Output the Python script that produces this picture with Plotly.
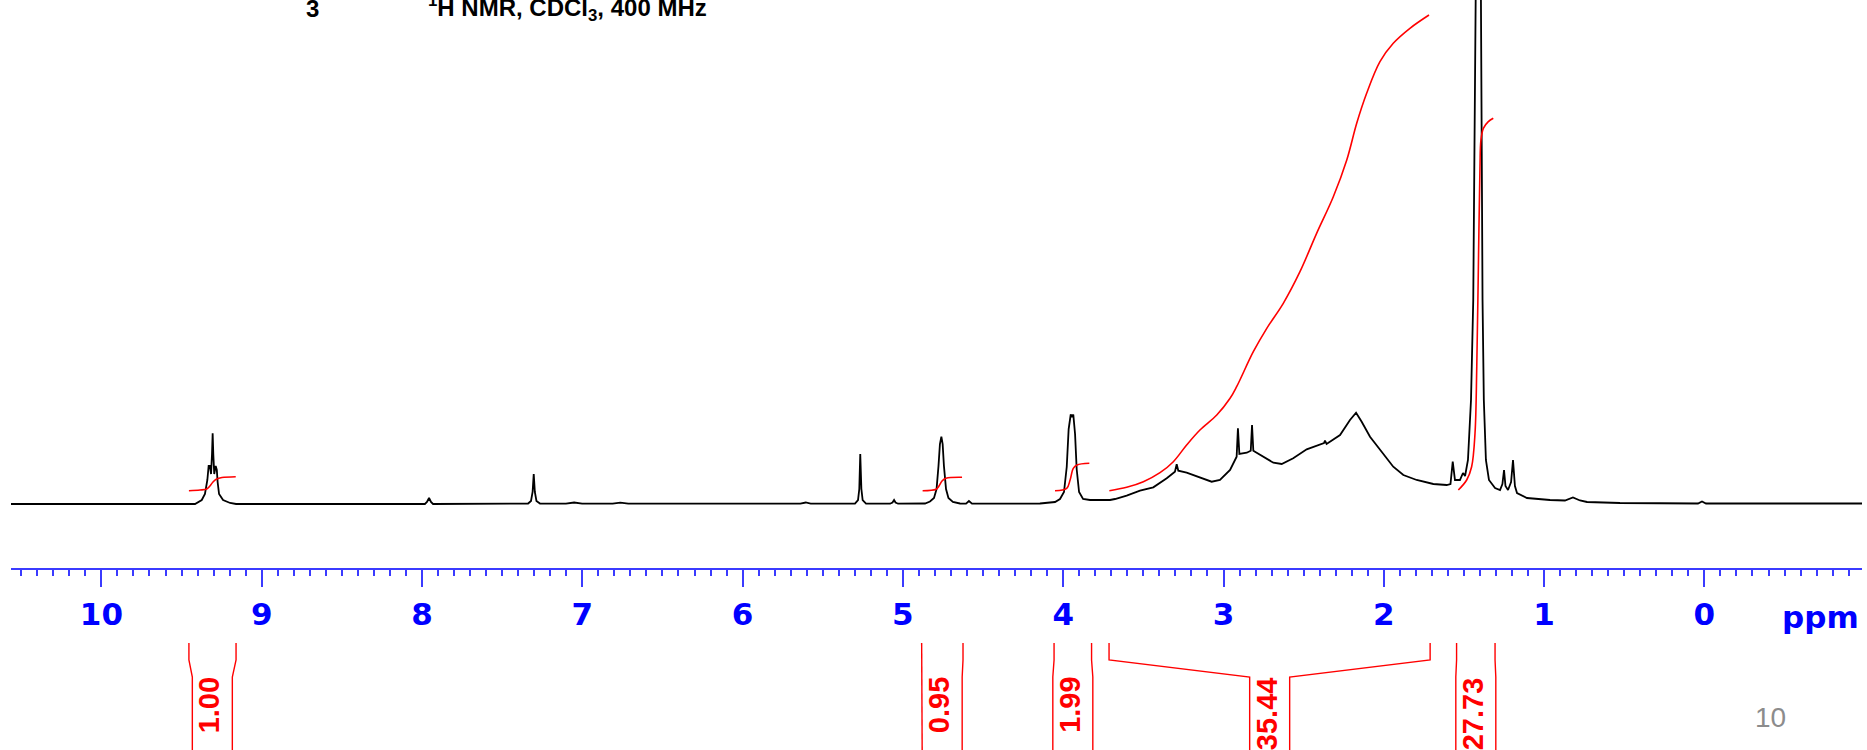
import plotly.graph_objects as go

# ---------------- data ----------------
spec_ppm = [10.566, 9.416, 9.374, 9.354, 9.339, 9.331, 9.323, 9.316, 9.310, 9.306, 9.302, 9.296,
            9.287, 9.280, 9.275, 9.266, 9.241, 9.197, 9.160,
            7.982, 7.969, 7.956, 7.944, 7.931,
            7.338, 7.320, 7.310, 7.303, 7.296, 7.286, 7.264,
            7.102, 7.051, 7.001, 6.811, 6.763, 6.713, 5.640, 5.606, 5.575,
            5.299, 5.280, 5.272, 5.266, 5.259, 5.251, 5.230,
            5.080, 5.065, 5.055, 5.046, 5.030,
            4.862, 4.831, 4.806, 4.790, 4.778, 4.769, 4.760, 4.752, 4.744, 4.731, 4.716, 4.688, 4.644,
            4.606, 4.588, 4.569,
            4.145, 4.051, 4.020, 3.995, 3.978, 3.966, 3.953, 3.945, 3.937, 3.926, 3.916, 3.901, 3.876,
            3.833, 3.770, 3.708, 3.677, 3.604, 3.521, 3.438, 3.354, 3.303, 3.292, 3.282, 3.230, 3.147,
            3.074, 3.022, 2.959, 2.918, 2.910, 2.901, 2.855, 2.830, 2.822, 2.814, 2.752, 2.689, 2.637,
            2.565, 2.481, 2.398, 2.373, 2.367, 2.357, 2.273, 2.211, 2.173, 2.138, 2.086, 2.003, 1.941,
            1.878, 1.795, 1.691, 1.608, 1.584, 1.570, 1.556, 1.525, 1.506, 1.493,
            1.475, 1.456, 1.442, 1.431, 1.412, 1.394, 1.384, 1.376, 1.363,
            1.344, 1.306, 1.275, 1.260, 1.250, 1.241, 1.225, 1.206, 1.194, 1.182, 1.169, 1.107,
            0.963, 0.870, 0.820, 0.776, 0.732, 0.527, 0.040, 0.015, -0.010, -0.989]
spec_int = [0, 0, 4, 10, 24, 38, 38, 30, 50, 70.7, 50, 30,
            38, 34, 22, 10, 4, 1, 0,
            0, 2, 6, 2, 0,
            0.5, 3, 12, 30, 12, 3, 0.5,
            0.3, 1.5, 0.3, 0.3, 1.3, 0.3, 0.3, 1.5, 0.3,
            0.5, 4, 15, 50, 15, 4, 0.5,
            0.3, 1.5, 4, 1.5, 0.3,
            0.5, 2.5, 6, 15, 38, 60, 67.3, 60, 38, 15, 6, 2, 0.5,
            0.3, 3, 0.3,
            0.5, 2, 5, 12, 37, 75, 89.5, 87, 89.5, 70, 35, 12, 5,
            4, 4, 4, 5, 8.3, 13.3, 16.7, 25.7, 32.3, 39.7, 33.3, 31.3, 26.7,
            22.3, 24, 34, 47.3, 75.7, 50, 51.3, 53.3, 79, 53.3, 47.3, 41.3, 40,
            45.7, 54.7, 59, 61, 63.3, 60, 69, 84, 91.3, 82.3, 67.3, 50.7, 37.3,
            29, 24, 20, 19, 20, 42.3, 24, 24, 31, 28,
            44, 104, 204, 504, 800, 504, 204, 104, 44,
            24, 16, 14, 20, 34, 18, 14, 22, 44, 18, 11, 6,
            4, 3.5, 6.5, 3.5, 2, 1, 0.5, 2.5, 0.5, 0.5]

# integral curves (ppm, height)
int1_ppm = [9.454, 9.385, 9.343, 9.323, 9.304, 9.281, 9.248, 9.162]
int1_val = [13.3, 14, 15, 18, 22, 25, 26.5, 27.3]
int2_ppm = [4.877, 4.793, 4.775, 4.756, 4.731, 4.631]
int2_val = [13.3, 14.7, 18, 23, 25.7, 26.7]
int3_ppm = [4.051, 3.978, 3.957, 3.937, 3.914, 3.837]
int3_val = [13.3, 15.7, 24, 35.7, 39, 40.7]
int4_ppm = [3.712, 3.604, 3.500, 3.396, 3.313, 3.230, 3.147, 3.042, 2.959, 2.918, 2.814, 2.730,
            2.627, 2.523, 2.419, 2.315, 2.231, 2.169, 2.107, 2.024, 1.941, 1.837, 1.718]
int4_val = [13.3, 16.7, 22.3, 31.3, 42.3, 59, 74, 89, 105.7, 117.3, 152.3, 175.7,
            200.7, 232.3, 270.7, 307.3, 344, 380.7, 410.7, 442.3, 460.7, 475.7, 489]
int5_ppm = [1.535, 1.483, 1.452, 1.431, 1.420, 1.410, 1.400, 1.394, 1.379, 1.348, 1.317]
int5_val = [14, 24, 37.3, 70.7, 137.3, 237.3, 337.3, 364, 375.7, 382.3, 385.7]

# integration regions and values
integ_labels = ["1.00", "0.95", "1.99", "35.44", "27.73"]
integ_left = [9.454, 4.883, 4.057, 3.714, 1.546]
integ_right = [9.160, 4.625, 3.823, 1.711, 1.306]
integ_center = [9.308, 4.755, 3.940, 2.712, 1.426]

tick_vals = [10, 9, 8, 7, 6, 5, 4, 3, 2, 1, 0]
tick_text = ["10", "9", "8", "7", "6", "5", "4", "3", "2", "1", "0"]

# ---------------- figure ----------------
W, H = 1867, 750
BASE = 504           # baseline pixel row
PX_PER_PPM = 160.3
ZERO_X = 1704.4      # pixel column of 0 ppm
x_left_px, x_right_px = 11, 1862


def ppm_at(px):
    return (ZERO_X - px) / PX_PER_PPM


def yval(py):
    return BASE - py


RED = "#ff0000"
BLUE_LINE = "#3b3bff"
BLUE_TXT = "#0000ff"

fig = go.Figure()

fig.add_trace(go.Scatter(x=spec_ppm, y=spec_int, mode="lines",
                         line=dict(color="black", width=1.8), hoverinfo="skip"))

for xp, yv in [(int1_ppm, int1_val), (int2_ppm, int2_val), (int3_ppm, int3_val),
               (int4_ppm, int4_val), (int5_ppm, int5_val)]:
    fig.add_trace(go.Scatter(x=xp, y=yv, mode="lines", line=dict(color=RED, width=1.6, shape="spline"),
                             hoverinfo="skip"))

hw = 20 / PX_PER_PPM
for lab, L, R, c in zip(integ_labels, integ_left, integ_right, integ_center):
    ys = [yval(643), yval(660), yval(677), yval(752)]
    fig.add_trace(go.Scatter(x=[L, L, c + hw, c + hw, None, R, R, c - hw, c - hw],
                             y=ys + [None] + ys, mode="lines",
                             line=dict(color=RED, width=1.4), hoverinfo="skip"))
    fig.add_annotation(x=c, y=1 - 675 / H, xref="x", yref="paper", text=lab, textangle=-90,
                       showarrow=False, xanchor="center", yanchor="top", xshift=-3,
                       font=dict(family="Liberation Sans", size=29, color=RED, weight="bold"))

fig.add_annotation(x=1820 / W, y=1 - 617 / H, xref="paper", yref="paper", text="ppm",
                   showarrow=False, xanchor="center", yanchor="middle",
                   font=dict(family="DejaVu Sans", size=31, color=BLUE_TXT, weight="bold"))

fig.add_annotation(x=1770 / W, y=1 - 717 / H, xref="paper", yref="paper", text="10",
                   showarrow=False, xanchor="center", yanchor="middle",
                   font=dict(family="Liberation Sans", size=28, color="#8c8c8c"))

fig.add_annotation(x=312 / W, y=1 - 8 / H, xref="paper", yref="paper", text="3",
                   showarrow=False, xanchor="center", yanchor="middle",
                   font=dict(family="Liberation Sans", size=24, color="black", weight="bold"))
fig.add_annotation(x=426 / W, y=1 - 8 / H, xref="paper", yref="paper",
                   text="<sup>1</sup>H NMR, CDCl<sub>3</sub>, 400 MHz",
                   showarrow=False, xanchor="left", yanchor="middle",
                   font=dict(family="Liberation Sans", size=24, color="black", weight="bold"))

fig.update_layout(
    width=W, height=H, margin=dict(l=0, r=0, t=0, b=0),
    paper_bgcolor="white", plot_bgcolor="white", showlegend=False,
    xaxis=dict(range=[ppm_at(x_left_px), ppm_at(x_right_px)], domain=[x_left_px / W, x_right_px / W],
               anchor="free", position=1 - 569.3 / H, showline=True, linecolor=BLUE_LINE, linewidth=2,
               ticks="outside", ticklen=17, tickwidth=2, tickcolor=BLUE_LINE,
               tickvals=tick_vals, ticktext=tick_text,
               tickfont=dict(family="DejaVu Sans", size=31, color=BLUE_TXT, weight="bold"),
               showgrid=False, zeroline=False,
               minor=dict(ticks="outside", ticklen=6, tickwidth=1.5, tickcolor=BLUE_LINE,
                          dtick=0.1, tick0=0, showgrid=False)),
    yaxis=dict(range=[yval(H), yval(0)], domain=[0, 1], visible=False, fixedrange=True),
)

fig.write_html("out.html")
